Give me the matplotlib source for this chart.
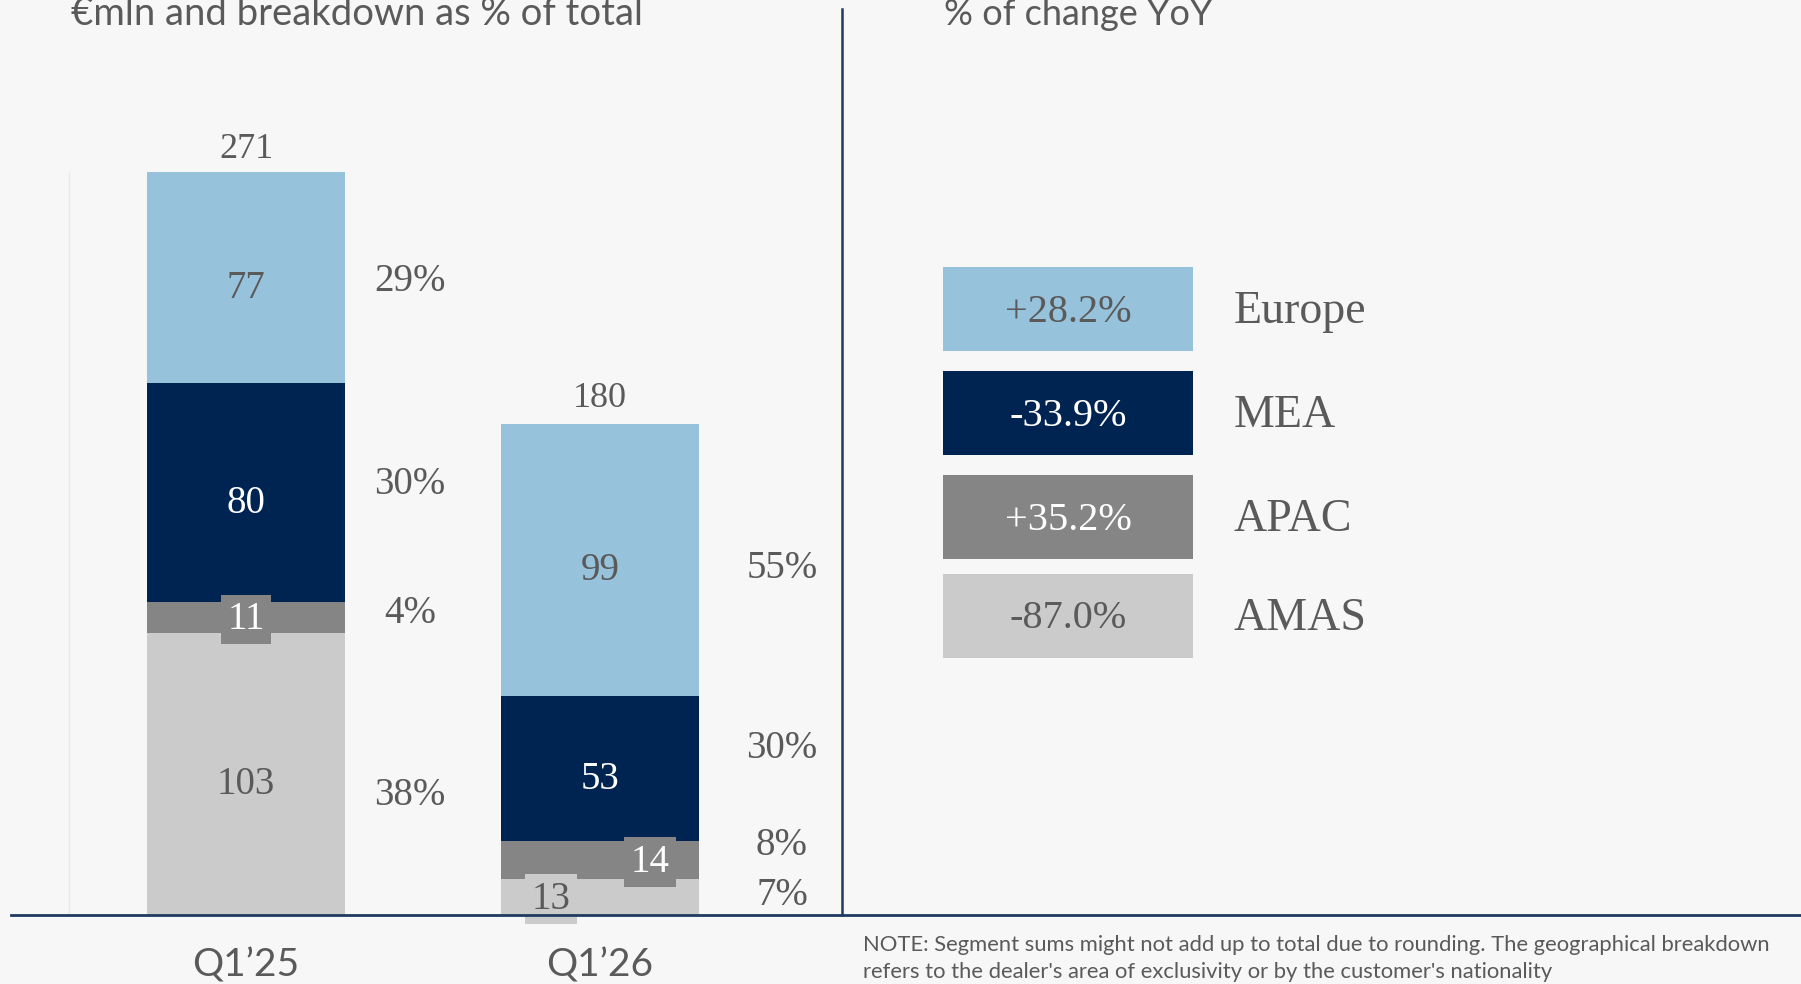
import matplotlib
matplotlib.use("Agg")
import matplotlib.pyplot as plt
from matplotlib.lines import Line2D

# data
periods = ["Q1’25", "Q1’26"]
regions = ["AMAS", "APAC", "MEA", "Europe"]          # stacked bottom -> top
amas = [103, 13]
apac = [11, 14]
mea = [80, 53]
europe = [77, 99]
totals = [271, 180]
share_q125 = ["38%", "4%", "30%", "29%"]
share_q126 = ["7%", "8%", "30%", "55%"]
yoy = ["-87.0%", "+35.2%", "-33.9%", "+28.2%"]

colors = {"AMAS": "#cbcbcb", "APAC": "#858585", "MEA": "#002451", "Europe": "#97c2dc"}
txt_col = {"AMAS": "#5a5a5a", "APAC": "white", "MEA": "white", "Europe": "#5a5a5a"}
GREY = "#5a5a5a"
BG = "#f7f7f7"
LINE = "#1f3a60"
SERIF = ["Liberation Serif", "DejaVu Serif"]
SANS = ["Lato", "DejaVu Sans"]

W, H = 1801, 984
def fx(px): return px / W
def fy(py): return 1 - py / H

fig = plt.figure(figsize=(W / 100, H / 100), dpi=100, facecolor=BG)

# left panel: stacked bars
PXU = 2.742          # pixels per €mln
ax = fig.add_axes([fx(69), fy(915), fx(842) - fx(69), fy(9) - fy(915)])
ax.set_xlim(-0.5, (842 - 246) / 354)
ax.set_ylim(0, 906 / PXU)
ax.axis("off")
ax.patch.set_alpha(0)

x = [0, 1]
series = {"AMAS": amas, "APAC": apac, "MEA": mea, "Europe": europe}
bottom = [0, 0]
centers = {}
for r in regions:
    vals = series[r]
    ax.bar(x, vals, width=0.56, bottom=bottom, color=colors[r], linewidth=0)
    centers[r] = [b + v / 2 for b, v in zip(bottom, vals)]
    bottom = [b + v for b, v in zip(bottom, vals)]

# faint left rule
ax.plot([-0.5, -0.5], [0, totals[0]], color="#e9e9e9", lw=1, clip_on=False)

# segment values
xnudge = {("APAC", 1): 0.141, ("AMAS", 1): -0.138}
boxed = {("APAC", 0), ("APAC", 1), ("AMAS", 1)}
for r in regions:
    for i in x:
        kw = {}
        dy = 11
        if (r, i) in boxed:
            kw["bbox"] = dict(boxstyle="square,pad=0.16", fc=colors[r], ec="none")
            dy = 2
        ax.text(i + xnudge.get((r, i), 0), centers[r][i] - dy / PXU, str(series[r][i]),
                ha="center", va="center", fontsize=28, color=txt_col[r],
                family=SERIF, **kw)

# totals
for i in x:
    ax.text(i, totals[i] + 8.3, str(totals[i]), ha="center", va="center",
            fontsize=26, color=GREY, family=SERIF)

# shares
shares = [share_q125, share_q126]
pct_x = [0.463, 0.514]
pct_dy = [[22, -4, -8, 4], [-2, -15, -20, 9]]   # pixel nudges (down +)
for i in x:
    for k, r in enumerate(regions):
        ax.text(i + pct_x[i], centers[r][i] - pct_dy[i][k] / PXU, shares[i][k],
                ha="center", va="center", fontsize=28, color=GREY, family=SERIF)

# category labels
for i in x:
    fig.text(fx(246 + 354 * i), fy(976), periods[i], ha="center", va="baseline",
             fontsize=28, color=GREY, family=SANS)

# right panel: YoY boxes
ax2 = fig.add_axes([fx(943), fy(673), fx(1193) - fx(943), fy(257) - fy(673)])
order = ["Europe", "MEA", "APAC", "AMAS"]
ypos = [0, 1, 2, 2.95]
yoy_map = dict(zip(regions, yoy))
ax2.barh(ypos, [1] * 4, height=0.81, color=[colors[r] for r in order], linewidth=0)
ax2.set_xlim(0, 1)
ax2.set_ylim(3.5, -0.5)
ax2.axis("off")
ax2.patch.set_alpha(0)
for j, r in enumerate(order):
    ax2.text(0.5, ypos[j] + 0.03, yoy_map[r], ha="center", va="center", fontsize=29,
             color=txt_col[r], family=SERIF)
    ax2.text(1.164, ypos[j] + 0.03, r, ha="left", va="center", fontsize=33, color=GREY,
             family=SERIF, clip_on=False)

# titles
fig.text(fx(71), fy(25), "€mln and breakdown as % of total", ha="left", va="baseline",
         fontsize=27.5, color=GREY, family=SANS)
fig.text(fx(944), fy(25), "% of change YoY", ha="left", va="baseline",
         fontsize=26, color=GREY, family=SANS)

# rules
fig.add_artist(Line2D([fx(11), 1], [fy(915), fy(915)], color=LINE, lw=2))
fig.add_artist(Line2D([fx(842), fx(842)], [fy(9), fy(915)], color=LINE, lw=1.8))

# note
fig.text(fx(863), fy(951), "NOTE: Segment sums might not add up to total due to rounding. "
         "The geographical breakdown", ha="left", va="baseline", fontsize=15.8,
         color=GREY, family=SANS)
fig.text(fx(863), fy(978), "refers to the dealer's area of exclusivity or by the customer's nationality",
         ha="left", va="baseline", fontsize=15.8, color=GREY, family=SANS)

fig.savefig("out.png", dpi=100, facecolor=BG)
